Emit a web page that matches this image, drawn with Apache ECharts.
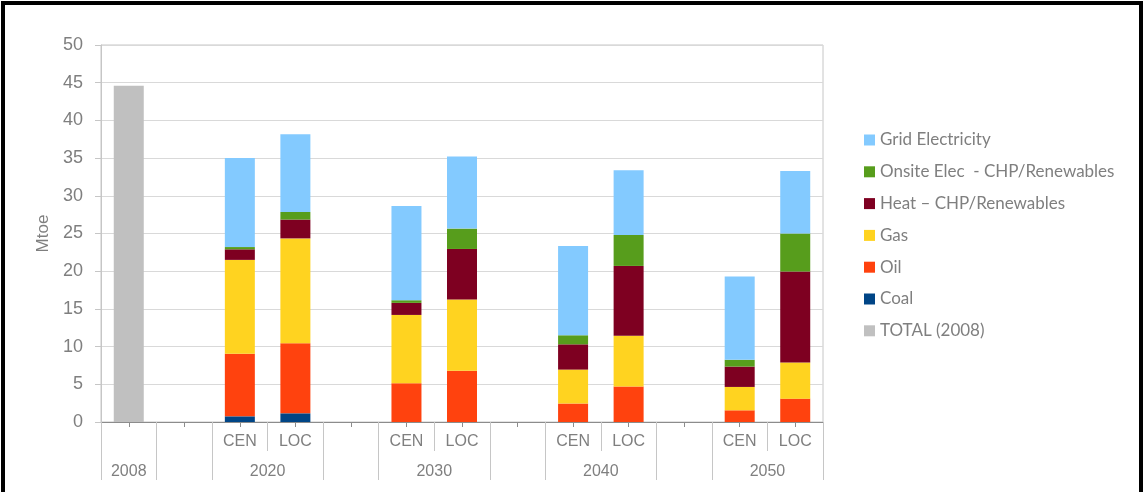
<!DOCTYPE html>
<html>
<head>
<meta charset="utf-8">
<script src="https://cdn.jsdelivr.net/npm/echarts@6/dist/echarts.min.js"></script>
<style>
  html, body { margin: 0; padding: 0; background: #fff; }
  #chart { width: 1144px; height: 492px; }
  #frame {
    position: absolute; left: 1px; top: 1px; width: 1134px; height: 500px;
    border: 4px solid #000; border-bottom: none; pointer-events: none;
  }
</style>
</head>
<body>
<div id="chart"></div>
<div id="frame"></div>
<script>
// Category slots along the x axis (first row of labels)
const categories = ['', '', 'CEN', 'LOC', '', 'CEN', 'LOC', '', 'CEN', 'LOC', '', 'CEN', 'LOC'];
// Year group labels (second row) and where they sit on the 0..13 slot scale
const groupLabels = ['2008', '2020', '2030', '2040', '2050'];
const groupCentres = [0.5, 3, 6, 9, 12];
// Slot boundaries that separate the year groups, and the CEN/LOC split lines
const groupEdges = [0, 1, 2, 4, 5, 7, 8, 10, 11, 13];
const pairSplits = [3, 6, 9, 12];

// Energy use, Mtoe
const total2008 = [44.6, null, null, null, null, null, null, null, null, null, null, null, null];
const coal   = [null, null, 0.75, 1.15, null, null, null, null, null, null, null, null, null];
const oil    = [null, null, 8.3, 9.3, null, 5.15, 6.8, null, 2.45, 4.7, null, 1.55, 3.1];
const gas    = [null, null, 12.45, 13.9, null, 9.05, 9.45, null, 4.5, 6.75, null, 3.1, 4.8];
const heat   = [null, null, 1.4, 2.5, null, 1.6, 6.7, null, 3.35, 9.25, null, 2.7, 12.05];
const onsite = [null, null, 0.3, 1.0, null, 0.35, 2.7, null, 1.2, 4.1, null, 0.9, 5.05];
const grid   = [null, null, 11.8, 10.3, null, 12.5, 9.55, null, 11.85, 8.6, null, 11.05, 8.3];

const names = {
  grid: 'Grid Electricity',
  onsite: 'Onsite Elec  - CHP/Renewables',
  heat: 'Heat \u2013 CHP/Renewables',
  gas: 'Gas',
  oil: 'Oil',
  coal: 'Coal',
  total: 'TOTAL (2008)'
};

const axisGrey = '#8c8c8c';
const lightGrey = '#c6c6c6';
const textGrey = '#7f7f7f';
const sans = '"Liberation Sans", Arial, sans-serif';

function bar(name, data, color) {
  return {
    name: name, type: 'bar', stack: 'energy', data: data,
    barWidth: 30, xAxisIndex: 0,
    itemStyle: { color: color },
    emphasis: { disabled: true }
  };
}

const chart = echarts.init(document.getElementById('chart'));
chart.setOption({
  animation: false,
  backgroundColor: '#fff',
  grid: {
    left: 101, right: 321, top: 45, bottom: 70,
    show: true, borderColor: lightGrey, borderWidth: 1
  },
  legend: {
    orient: 'vertical',
    left: 859, top: 125,
    itemWidth: 11, itemHeight: 11, itemGap: 11.8,
    icon: 'rect',
    textStyle: { color: textGrey, fontSize: 17, fontFamily: 'Lato, "Open Sans", sans-serif', lineHeight: 20 },
    data: [names.grid, names.onsite, names.heat, names.gas, names.oil, names.coal, names.total]
  },
  xAxis: [
    {
      type: 'category', data: categories, position: 'bottom',
      axisLine: { lineStyle: { color: axisGrey } },
      axisTick: { show: true, alignWithLabel: true, interval: 0, length: 5, lineStyle: { color: axisGrey } },
      axisLabel: { interval: 0, margin: 12, color: textGrey, fontSize: 16, fontFamily: sans },
      splitLine: { show: false }
    },
    {
      type: 'value', min: 0, max: 13, position: 'bottom',
      axisLine: { show: false },
      axisTick: { show: true, customValues: groupEdges, length: 58, lineStyle: { color: lightGrey } },
      axisLabel: {
        show: true, customValues: groupCentres, margin: 42,
        color: textGrey, fontSize: 16, fontFamily: sans,
        formatter: function (v) {
          const i = groupCentres.indexOf(v);
          return i >= 0 ? groupLabels[i] : '';
        }
      },
      splitLine: { show: false }
    },
    {
      type: 'value', min: 0, max: 13, position: 'bottom',
      axisLine: { show: false },
      axisTick: { show: true, customValues: pairSplits, length: 29, lineStyle: { color: lightGrey } },
      axisLabel: { show: false },
      splitLine: { show: false }
    }
  ],
  yAxis: {
    type: 'value', min: 0, max: 50, interval: 5,
    name: 'Mtoe', nameLocation: 'middle', nameGap: 48, nameRotate: 90,
    nameTextStyle: { color: textGrey, fontSize: 17, fontFamily: sans },
    axisLine: { show: true, lineStyle: { color: lightGrey } },
    axisTick: { show: true, length: 6, lineStyle: { color: lightGrey } },
    axisLabel: { color: textGrey, fontSize: 18, margin: 18, fontFamily: sans },
    splitLine: { lineStyle: { color: '#d9d9d9' } }
  },
  series: [
    bar(names.total, total2008, '#c0c0c0'),
    bar(names.coal, coal, '#004586'),
    bar(names.oil, oil, '#ff420e'),
    bar(names.gas, gas, '#ffd320'),
    bar(names.heat, heat, '#7e0021'),
    bar(names.onsite, onsite, '#579d1c'),
    bar(names.grid, grid, '#83caff')
  ]
});
</script>
</body>
</html>
